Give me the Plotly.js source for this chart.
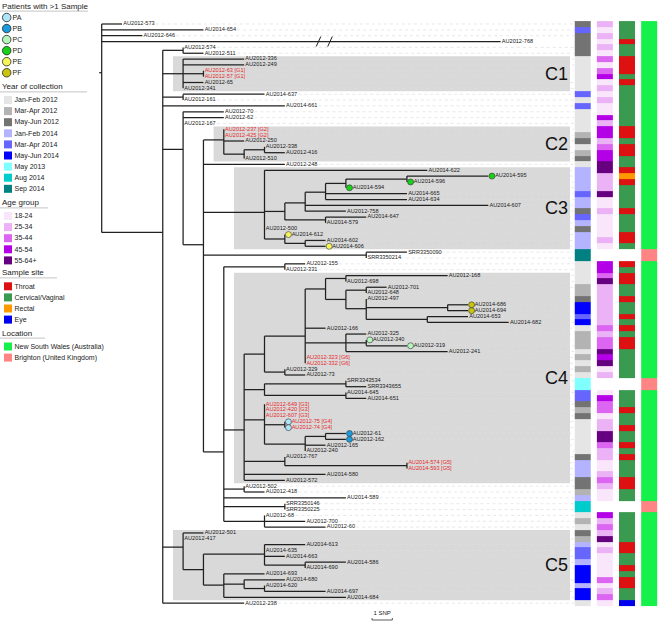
<!DOCTYPE html>
<html>
<head>
<meta charset="utf-8">
<script src="https://cdn.plot.ly/plotly-3.0.1.min.js"></script>
<style>
html,body{margin:0;padding:0;background:#fff;}
#chart{width:660px;height:625px;}
</style>
</head>
<body>
<div id="chart"></div>
<script>
// ================= DATA =================
// Tree topology with branch lengths in SNPs (AU2012-768 branch is truncated / broken in the figure)
const treeNewick = `(
 AU2012-573:1, AU2014-654:5, AU2012-646:2, AU2012-768:19.6,
 (
  (AU2012-574:0, AU2012-511:1):1,
  (AU2012-336:3, AU2012-249:3, (AU2012-63:0, AU2012-57:0):1, AU2012-65:1, AU2012-341:0):1,
  (AU2014-637:4, AU2012-161:0):1,
  AU2014-661:6,
  (AU2012-70:2, AU2012-62:2, AU2012-167:0,
   (
    (AU2012-237:0, AU2012-425:0, AU2012-250:1, ((AU2012-338:0, AU2012-416:1):1, AU2012-510:0):1):1,
    AU2012-248:4,
    (AU2014-622:8,
     (
      (
       (
        ((AU2014-595:4, AU2014-596:0):3, AU2014-594:0):1,
        AU2014-665:4, AU2014-634:4
       ):1,
       AU2014-607:9, AU2012-758:2
      ):1,
      (AU2014-647:2, AU2014-579:0):2
     ):1,
     AU2012-500:0,
     (AU2014-612:0, (AU2014-602:1, AU2014-606:1):1):1
    ):3,
    (SRR3350090:2, SRR3350214:0):8,
    (
     (AU2012-155:1, AU2012-331:0):3,
     (
      (
       (
        (
         (AU2012-168:5, AU2012-698:0):1,
         ((AU2012-701:1, AU2012-648:0):1, (AU2012-497:0, (AU2014-686:1, AU2014-694:1):4, (AU2014-653:2, AU2014-682:4):3):1):1
        ):1,
        AU2012-166:1,
        (AU2012-325:1, (AU2012-340:0, AU2012-319:2):1, AU2012-241:5):2,
        AU2012-323:0, AU2012-332:0
       ):2,
       (AU2012-329:0, AU2012-73:1):1
      ):1,
      ((SRR3343534:0, SRR3343655:1):4, (AU2014-645:0, AU2014-651:1):4):1,
      (AU2012-649:0, AU2012-420:0, AU2012-607:0, (AU2012-75:0, AU2012-74:0):1, ((AU2012-61:1, AU2012-162:1):1, AU2012-165:1, AU2012-240:0):2):1,
      (AU2012-767:0, (AU2014-574:0, AU2014-593:0):6):2,
      AU2014-580:4,
      AU2012-572:2
     ):1,
     (AU2012-502:0, AU2012-418:1):1,
     AU2014-589:6,
     (SRR3350146:0, SRR3350225:0):3,
     (AU2012-68:0, AU2012-700:2, AU2012-60:3):2
    ):1
   ):1
  ):1,
  (AU2012-501:1, AU2012-417:0,
   (
    (AU2014-613:2, AU2014-635:0, AU2014-663:1, (AU2014-586:2, AU2014-690:0):2):3,
    (AU2014-693:2, (AU2014-680:2, (AU2014-620:0, AU2014-697:3):1):1, AU2014-684:6):1
   ):1
  ):1,
  AU2012-238:4
 ):3
);`;
const brokenBranchTips = ['AU2012-768'];

const tipNames = [
 'AU2012-573','AU2014-654','AU2012-646','AU2012-768','AU2012-574','AU2012-511','AU2012-336','AU2012-249','AU2012-63','AU2012-57',
 'AU2012-65','AU2012-341','AU2014-637','AU2012-161','AU2014-661','AU2012-70','AU2012-62','AU2012-167','AU2012-237','AU2012-425',
 'AU2012-250','AU2012-338','AU2012-416','AU2012-510','AU2012-248','AU2014-622','AU2014-595','AU2014-596','AU2014-594','AU2014-665',
 'AU2014-634','AU2014-607','AU2012-758','AU2014-647','AU2014-579','AU2012-500','AU2014-612','AU2014-602','AU2014-606','SRR3350090',
 'SRR3350214','AU2012-155','AU2012-331','AU2012-168','AU2012-698','AU2012-701','AU2012-648','AU2012-497','AU2014-686','AU2014-694',
 'AU2014-653','AU2014-682','AU2012-166','AU2012-325','AU2012-340','AU2012-319','AU2012-241','AU2012-323','AU2012-332','AU2012-329',
 'AU2012-73','SRR3343534','SRR3343655','AU2014-645','AU2014-651','AU2012-649','AU2012-420','AU2012-607','AU2012-75','AU2012-74',
 'AU2012-61','AU2012-162','AU2012-165','AU2012-240','AU2012-767','AU2014-574','AU2014-593','AU2014-580','AU2012-572','AU2012-502',
 'AU2012-418','AU2014-589','SRR3350146','SRR3350225','AU2012-68','AU2012-700','AU2012-60','AU2012-501','AU2012-417','AU2014-613',
 'AU2014-635','AU2014-663','AU2014-586','AU2014-690','AU2014-693','AU2014-680','AU2014-620','AU2014-697','AU2014-684','AU2012-238'
];

const groupNames = ['G1','G2','G3','G4','G5','G6'];
const groupMembers = [
 ['AU2012-63','AU2012-57'],
 ['AU2012-237','AU2012-425'],
 ['AU2012-649','AU2012-420','AU2012-607'],
 ['AU2012-75','AU2012-74'],
 ['AU2014-574','AU2014-593'],
 ['AU2012-323','AU2012-332']
];

const patientIds = ['PA','PB','PC','PD','PE','PF'];
const patientTips = [
 ['AU2012-75','AU2012-74'],
 ['AU2012-61','AU2012-162'],
 ['AU2012-340','AU2012-319'],
 ['AU2014-595','AU2014-596','AU2014-594'],
 ['AU2014-612','AU2014-606'],
 ['AU2014-686','AU2014-694']
];

const yearLabels = ['Jan-Feb 2012','Mar-Apr 2012','May-Jun 2012','Jan-Feb 2014','Mar-Apr 2014','May-Jun 2014','May 2013','Aug 2014','Sep 2014'];
const tipYear = [
 2,4,2,2,2,2,0,0,0,0, 0,0,4,0,4,0,0,0,0,1, 2,0,1,2,0,3,3,3,3,4, 3,3,2,4,3,2,3,3,3,8,
 8,0,0,0,0,1,1,2,5,5, 4,5,0,1,1,1,0,1,0,1, 0,6,6,4,4,2,1,2,0,0, 0,0,0,0,2,3,3,3,2,2,
 1,3,7,7,0,1,0,2,1,3, 4,4,3,5,5,5,3,5,5,0
];
const ageLabels = ['18-24','25-34','35-44','45-54','55-64+'];
const tipAge = [
 1,0,1,0,1,0,2,0,2,3, 0,1,0,1,0,0,3,1,3,3, 1,2,3,3,4,4,1,1,1,4, 0,0,1,0,0,0,0,1,0,null,
 null,3,3,2,4,1,1,1,1,1, 1,1,2,1,2,2,4,3,4,0, 1,null,null,0,3,2,2,0,1,1, 4,4,2,1,1,0,0,1,2,1,
 0,0,null,null,3,1,2,1,4,0, 1,0,0,0,0,2,0,1,2,0
];
const siteLabels = ['Throat','Cervical/Vaginal','Rectal','Eye'];
const tipSite = [
 1,1,1,0,1,1,0,0,0,1, 0,1,1,1,1,1,1,1,0,0, 1,0,0,1,1,0,2,0,1,1, 1,1,0,1,1,1,0,0,1,null,
 null,0,1,0,0,1,1,0,1,1, 0,1,0,1,0,0,1,1,1,1, 1,null,null,1,1,1,0,1,1,0, 1,1,0,1,0,1,1,1,0,0,
 1,1,null,null,1,1,1,1,1,0, 0,1,1,0,1,0,0,1,1,3
];
const locationLabels = ['New South Wales (Australia)','Brighton (United Kingdom)'];
const tipLocation = [
 0,0,0,0,0,0,0,0,0,0, 0,0,0,0,0,0,0,0,0,0, 0,0,0,0,0,0,0,0,0,0, 0,0,0,0,0,0,0,0,0,1,
 1,0,0,0,0,0,0,0,0,0, 0,0,0,0,0,0,0,0,0,0, 0,1,1,0,0,0,0,0,0,0, 0,0,0,0,0,0,0,0,0,0,
 0,0,1,1,0,0,0,0,0,0, 0,0,0,0,0,0,0,0,0,0
];

const cladeNames = ['C1','C2','C3','C4','C5'];
const cladeFirstTip = ['AU2012-336','AU2012-237','AU2014-622','AU2012-168','AU2012-501'];
const cladeLastTip = ['AU2012-341','AU2012-510','AU2014-606','AU2012-572','AU2014-684'];
const scaleBarText = '1 SNP';

// ================= STYLE =================
const FONT = 'Liberation Sans, Arial, Helvetica, sans-serif';
const patientColors = ['#aee5f8','#1c9bdc','#b6f5bd','#17d217','#f6f65c','#c9c40c'];
const yearColors = ['#e5e5e5','#b3b3b3','#737373','#b3b3ff','#6666ff','#0000ff','#80ffff','#00cccc','#008080'];
const ageColors = ['#fae6fa','#ebb3f5','#dc66f2','#b300e6','#660080'];
const siteColors = ['#dd1111','#3a9a50','#ff9900','#0000ee'];
const locationColors = ['#15f04a','#ff8585'];
const cladeBoxLeft = [3.5, 5.5, 6.5, 6.5, 3.5]; // SNP units
const W = 660, H = 625;
const PX = 20.35, X0 = 101.7;       // px per SNP, root position
const ROW0 = 24, ROWH = 5.85;      // first tip row px, row spacing px
const sx = px => px / PX;
const sy = px => px / ROWH;
const pxToK = px => (px - X0) / PX;
const pxToRow = py => (py - ROW0) / ROWH;

// ================= TREE =================
function parseNewick(str) {
  const s = str.replace(/\s+/g, '');
  let i = 0;
  function node() {
    const n = {children: [], name: '', len: 0};
    if (s[i] === '(') {
      i++;
      n.children.push(node());
      while (s[i] === ',') { i++; n.children.push(node()); }
      i++;
    }
    let name = '';
    while (i < s.length && !',():;'.includes(s[i])) name += s[i++];
    n.name = name;
    if (s[i] === ':') {
      i++; let num = '';
      while (i < s.length && !',();'.includes(s[i])) num += s[i++];
      n.len = parseFloat(num);
    }
    return n;
  }
  return node();
}
const root = parseNewick(treeNewick);
const rowOf = {};
tipNames.forEach((n, i) => rowOf[n] = i);
(function lay(n, d) {
  n.x = d + (n.len || 0);
  if (n.children.length) {
    n.children.forEach(c => lay(c, n.x));
    n.y = n.children.reduce((a, c) => a + c.y, 0) / n.children.length;
  } else n.y = rowOf[n.name];
})(root, 0);

const bx = [], by = [];
function seg(x1, y1, x2, y2) { bx.push(x1, x2, null); by.push(y1, y2, null); }
const tips = [];
(function walk(n) {
  if (n.children.length) {
    const ys = n.children.map(c => c.y);
    seg(n.x, Math.min(...ys), n.x, Math.max(...ys));
    n.children.forEach(c => { seg(n.x, c.y, c.x, c.y); walk(c); });
  } else tips.push(n);
})(root);
seg(root.x - sx(2.5), root.y, root.x, root.y);

// break marks on truncated branch
const brx = [], bry = [];
tips.filter(t => brokenBranchTips.includes(t.name)).forEach(t => {
  [318.5, 330].forEach(px => {
    const k = pxToK(px);
    brx.push(k - sx(2.3), k + sx(2.3), null);
    bry.push(t.y + sy(5), t.y - sy(5), null);
  });
});

const patientOf = {};
patientTips.forEach((arr, i) => arr.forEach(n => patientOf[n] = i));
const groupOf = {};
groupMembers.forEach((arr, i) => arr.forEach(n => groupOf[n] = groupNames[i]));

const lx = [], ly = [], lt = [], lc = [];
const gx = [], gy = [];
const boxRight = pxToK(570);
const guideEnd = pxToK(574);
tips.forEach(t => {
  const dot = t.name in patientOf;
  const txt = groupOf[t.name] ? t.name + ' [' + groupOf[t.name] + ']' : t.name;
  const x = t.x + sx(dot ? 6.8 : 1.2);
  lx.push(x); ly.push(t.y); lt.push(txt);
  lc.push(groupOf[t.name] ? '#e62a2e' : '#1a1a1a');
  const xe = x + sx(txt.length * 3.05 + 2);
  if (xe < guideEnd && !brokenBranchTips.includes(t.name)) { gx.push(xe, guideEnd, null); gy.push(t.y, t.y, null); }
});
const dx = [], dy = [], dc = [];
tips.forEach(t => {
  if (t.name in patientOf) { dx.push(t.x + sx(3.6)); dy.push(t.y); dc.push(patientColors[patientOf[t.name]]); }
});

const traces = [];
traces.push({type: 'scatter', mode: 'lines', x: gx, y: gy, line: {color: '#dedede', width: 0.7, dash: 'dot'}, hoverinfo: 'skip'});
traces.push({type: 'scatter', mode: 'lines', x: bx, y: by, line: {color: '#202020', width: 1.25}, hoverinfo: 'skip'});
traces.push({type: 'scatter', mode: 'lines', x: brx, y: bry, line: {color: '#202020', width: 1}, hoverinfo: 'skip'});
traces.push({type: 'scatter', mode: 'markers', x: dx, y: dy,
  marker: {size: 6, opacity: 1, color: dc, line: {color: '#333', width: 0.6}}, hoverinfo: 'skip'});
traces.push({type: 'scatter', mode: 'text', x: lx, y: ly, text: lt, textposition: 'middle right',
  textfont: {size: 5.6, color: lc, family: FONT}, hoverinfo: 'skip'});

// scale bar
const sbK = pxToK(372), sbRow = pxToRow(620);
traces.push({type: 'scatter', mode: 'lines', x: [sbK, sbK, null, sbK, sbK + 1, null, sbK + 1, sbK + 1],
  y: [sbRow - sy(2), sbRow, null, sbRow, sbRow, null, sbRow, sbRow - sy(2)],
  line: {color: '#333', width: 0.8}, hoverinfo: 'skip'});
traces.push({type: 'scatter', mode: 'text', x: [sbK + 0.5], y: [pxToRow(613.5)], text: [scaleBarText],
  textposition: 'middle center', textfont: {size: 6, color: '#222', family: FONT}, hoverinfo: 'skip'});

// ================= ANNOTATION COLUMNS =================
function discreteScale(colors) {
  const n = colors.length, cs = [];
  colors.forEach((c, i) => { cs.push([i / n, c]); cs.push([(i + 1) / n, c]); });
  return cs;
}
[[tipYear, yearColors], [tipAge, ageColors], [tipSite, siteColors], [tipLocation, locationColors]].forEach(([vals, cols], ci) => {
  traces.push({type: 'heatmap', xaxis: 'x2', yaxis: 'y', x0: ci, dx: 1, y0: 0, dy: 1,
    z: vals.map(v => [v]), zmin: -0.5, zmax: cols.length - 0.5, colorscale: discreteScale(cols),
    showscale: false, xgap: 6, hoverinfo: 'skip'});
});

// ================= LEGEND (pixel axes) =================
const legSym = {x: [], y: [], c: [], s: [], sym: []};
const legTxt = {x: [], y: [], t: [], size: []};
const hdrLines = {x: [], y: []};
function header(text, y, w) {
  legTxt.x.push(2); legTxt.y.push(y); legTxt.t.push(text); legTxt.size.push(8);
  hdrLines.x.push(0, w, null); hdrLines.y.push(y + 4.6, y + 4.6, null);
}
header('Patients with &gt;1 Sample', 6.5, 88);
patientIds.forEach((p, i) => {
  const y = 17.5 + i * 11.05;
  legSym.x.push(6.7); legSym.y.push(y); legSym.c.push(patientColors[i]); legSym.s.push(8.5); legSym.sym.push('circle');
  legTxt.x.push(12.5); legTxt.y.push(y + 0.5); legTxt.t.push(p); legTxt.size.push(7);
});
function block(title, ty, w, labels, colors, y0) {
  header(title, ty, w);
  labels.forEach((l, i) => {
    const y = y0 + i * 11.1;
    legSym.x.push(8); legSym.y.push(y); legSym.c.push(colors[i]); legSym.s.push(8); legSym.sym.push('square');
    legTxt.x.push(14.5); legTxt.y.push(y + 0.5); legTxt.t.push(l); legTxt.size.push(7);
  });
}
block('Year of collection', 87.3, 87, yearLabels, yearColors, 100);
block('Age group', 203.3, 48, ageLabels, ageColors, 216);
block('Sample site', 273.3, 57, siteLabels, siteColors, 286.3);
block('Location', 333.5, 45, locationLabels, locationColors, 346.5);

traces.push({type: 'scatter', mode: 'lines', xaxis: 'x3', yaxis: 'y3', x: hdrLines.x, y: hdrLines.y,
  line: {color: '#c4c4c4', width: 1}, hoverinfo: 'skip'});
traces.push({type: 'scatter', mode: 'markers', xaxis: 'x3', yaxis: 'y3', x: legSym.x, y: legSym.y,
  marker: {size: legSym.s, opacity: 1, color: legSym.c, symbol: legSym.sym,
    line: {color: legSym.sym.map(s => s === 'circle' ? '#222' : 'rgba(0,0,0,0)'), width: legSym.sym.map(s => s === 'circle' ? 0.8 : 0)}},
  hoverinfo: 'skip'});
traces.push({type: 'scatter', mode: 'text', xaxis: 'x3', yaxis: 'y3', x: legTxt.x, y: legTxt.y, text: legTxt.t,
  textposition: 'middle right', textfont: {size: legTxt.size, color: '#222', family: FONT}, hoverinfo: 'skip'});

// ================= CLADE BOXES =================
const shapes = [], annotations = [];
cladeNames.forEach((c, i) => {
  const r1 = rowOf[cladeFirstTip[i]], r2 = rowOf[cladeLastTip[i]];
  shapes.push({type: 'rect', xref: 'x', yref: 'y', x0: cladeBoxLeft[i], x1: boxRight, y0: r1 - 0.5, y1: r2 + 0.5,
    fillcolor: '#d9d9d9', line: {width: 0}, layer: 'below'});
  annotations.push({xref: 'x', yref: 'y', x: boxRight - sx(0.5), y: (r1 + r2) / 2, text: c, showarrow: false,
    xanchor: 'right', yanchor: 'middle', font: {size: 18, color: '#111', family: FONT}});
});

const layout = {
  width: W, height: H, margin: {l: 0, r: 0, t: 0, b: 0, pad: 0},
  paper_bgcolor: '#ffffff', plot_bgcolor: '#ffffff', showlegend: false, hovermode: false,
  xaxis: {range: [pxToK(0), pxToK(W)], visible: false, fixedrange: true},
  yaxis: {range: [pxToRow(H), pxToRow(0)], visible: false, fixedrange: true},
  xaxis2: {range: [-582.8 / 22.13, (W - 582.8) / 22.13], overlaying: 'x', anchor: 'y', visible: false, fixedrange: true},
  xaxis3: {range: [0, W], overlaying: 'x', anchor: 'y3', visible: false, fixedrange: true},
  yaxis3: {range: [H, 0], overlaying: 'y', anchor: 'x3', visible: false, fixedrange: true},
  shapes: shapes, annotations: annotations
};
Plotly.newPlot('chart', traces, layout, {staticPlot: true, displayModeBar: false});
</script>
</body>
</html>
